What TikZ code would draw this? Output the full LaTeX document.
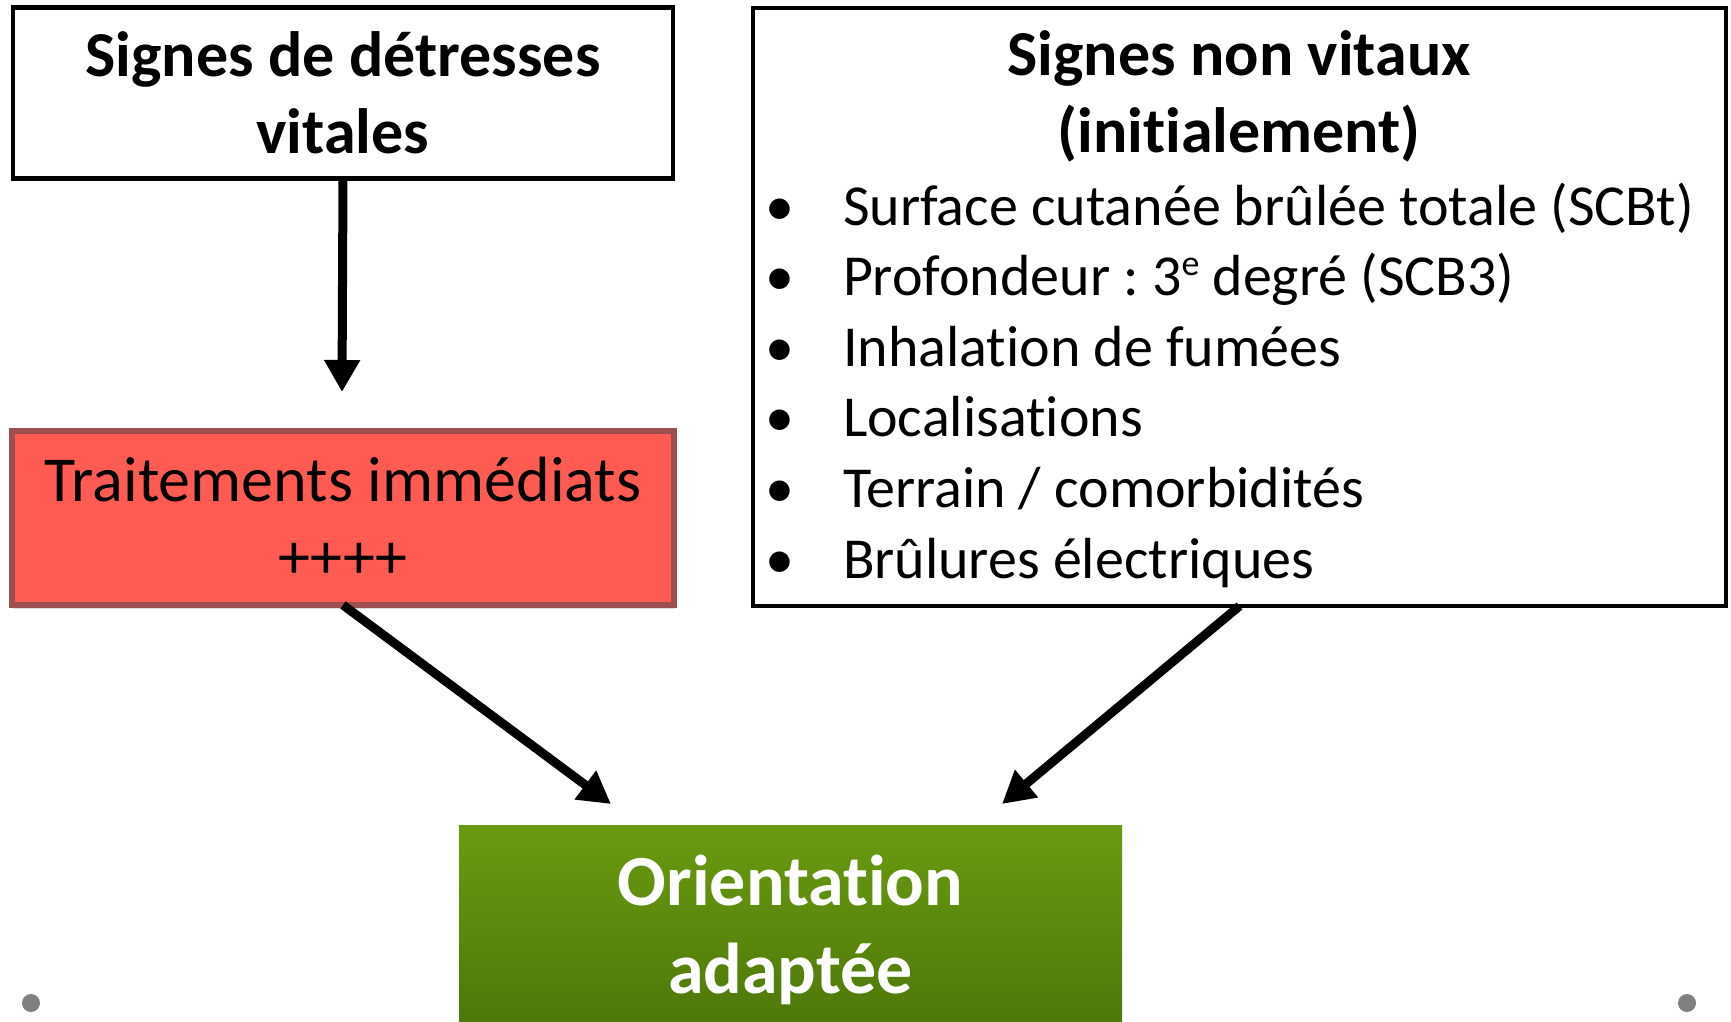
\documentclass[tikz,border=0pt]{standalone}
\usepackage{fontspec}
\setmainfont{Carlito}[Ligatures=NoCommon]
\usetikzlibrary{arrows.meta,shadows}
\definecolor{redfill}{HTML}{FF5B52}
\definecolor{redline}{HTML}{9C4F4F}
\definecolor{greentop}{HTML}{6A9A10}
\definecolor{greenbot}{HTML}{4C760A}
\definecolor{dotgray}{HTML}{808080}
\pgfdeclareradialshading{bgshade}{\pgfpoint{0bp}{0bp}}{color(0bp)=(white); color(25bp)=(white); color(50bp)=(black!13)}
\frenchspacing
\begin{document}
\begin{tikzpicture}[x=1pt,y=-1pt,
  every node/.style={inner sep=0pt, outer sep=0pt},
  whitebox/.style={draw=black, line width=4.5pt, fill=white},
  conn/.style={line width=9pt, -{Triangle[length=32pt,width=34pt]}},
  bigbold/.style={font=\fontsize{64}{77}\selectfont\bfseries, align=center},
  bigreg/.style={font=\fontsize{64}{77}\selectfont, align=center},
  item/.style={font=\fontsize{58}{70}\selectfont, anchor=base west},
  bul/.style={font=\fontsize{58}{70}\selectfont, anchor=base},
  cornerdot/.style={fill=dotgray, draw=none}]
\useasboundingbox (0,0) rectangle (1731,1021);
\clip (0,0) rectangle (1731,1021);
\shade[shading=bgshade] (-300,-500) rectangle (2031,1300);

% connector end points
\coordinate (t1) at (342,392);
\coordinate (t2) at (611,804);
\coordinate (t3) at (1002,804);

% boxes
\node[whitebox, minimum width=660pt, minimum height=171pt, bigbold] (vital) at (343,93)
  {Signes de détresses\\vitales};
\node[whitebox, minimum width=973pt, minimum height=598pt] (nonvital) at (1239.5,307) {};
\node[bigbold] (nvtitle) at (1239,96) {Signes non vitaux\\(initialement)};

\foreach \i/\t [count=\k] in {0/{Surface cutanée brûlée totale (SCBt)},
  1/{Profondeur : 3\raisebox{20pt}{\fontsize{36}{36}\selectfont e} degré (SCB3)},
  2/{Inhalation de fumées},
  3/{Localisations},
  4/{Terrain / comorbidités},
  5/{Brûlures électriques}}{
  \node[bul] (b\k) at (780,225+70.6*\i) {•};
  \node[item] (l\k) at (843,225+70.6*\i) {\t};
}

% arrows
\draw[conn] (vital.south) -- (t1);
\node[draw=redline, line width=5.5pt, fill=redfill, minimum width=662pt, minimum height=174pt,
  bigreg, drop shadow={opacity=0.25, shadow xshift=1pt, shadow yshift=-4pt}] (treat) at (343,518)
  {Traitements immédiats\\++++};
\draw[conn] (treat.south) -- (t2);
\draw[conn] (nonvital.south) -- (t3);

\node[top color=greentop, bottom color=greenbot, minimum width=663pt, minimum height=210pt,
  text=white, font=\fontsize{72}{88}\selectfont\bfseries, align=center] (orient) at (790.5,930)
  {Orientation\\adaptée};

\fill[cornerdot] (31,1003) circle (9);
\fill[cornerdot] (1687,1003) circle (9);
\end{tikzpicture}
\end{document}
